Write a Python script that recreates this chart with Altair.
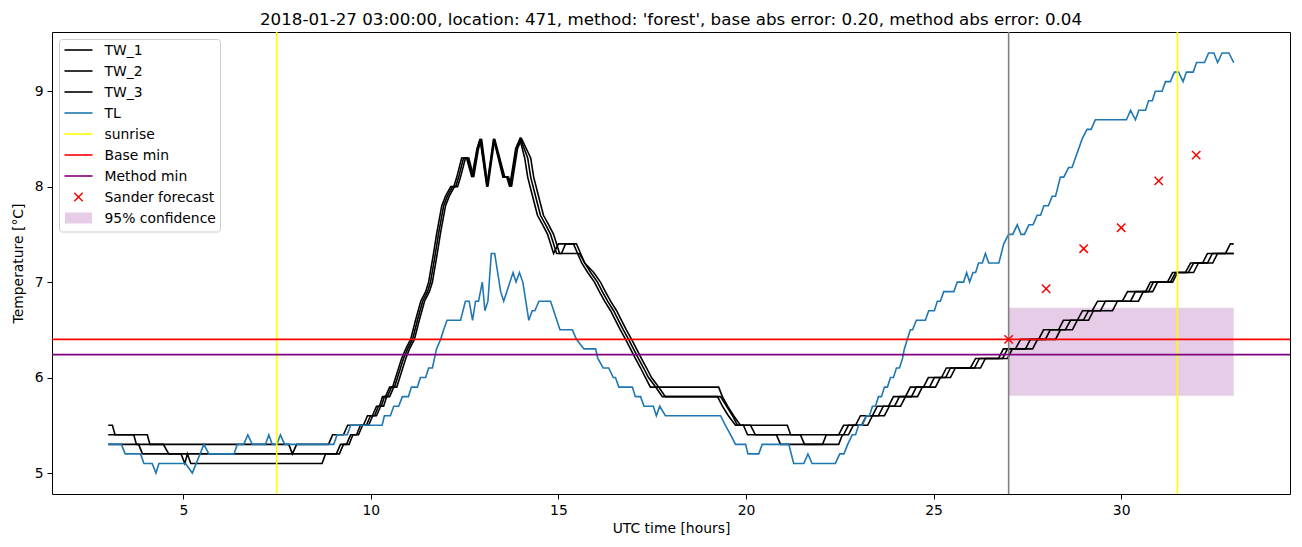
import altair as alt
import pandas as pd

TITLE = "2018-01-27 03:00:00, location: 471, method: 'forest', base abs error: 0.20, method abs error: 0.04"

# ---------------- data ----------------
TL_t = [3.00, 3.35, 3.45, 3.86, 3.95, 4.17, 4.27, 4.35, 5.06, 5.24, 5.55, 5.68, 6.35, 6.44, 6.61, 6.72, 6.84,
        7.19, 7.28, 7.37, 7.49, 7.59, 7.70, 9.01, 9.10, 9.37, 9.46, 10.30, 10.36, 10.52, 10.61, 10.74, 10.84,
        11.00, 11.08, 11.24, 11.32, 11.46, 11.54, 11.64, 11.75, 11.86, 11.94, 12.03, 12.39, 12.52, 12.62, 12.71,
        12.79, 12.87, 12.97, 13.04, 13.12, 13.21, 13.30, 13.46, 13.54, 13.79, 13.87, 13.96, 14.05, 14.21, 14.30,
        14.37, 14.48, 14.79, 15.04, 15.37, 15.48, 15.68, 15.99, 16.05, 16.19, 16.34, 16.46, 16.52, 16.61, 16.97,
        17.05, 17.19, 17.28, 17.53, 17.61, 17.70, 17.85, 19.32, 19.45, 19.59, 19.72, 19.99, 20.05, 20.34, 20.43,
        21.14, 21.27, 21.54, 21.65, 21.76, 22.38, 22.50, 22.61, 22.71, 22.83, 22.92, 23.00, 23.10, 23.21, 23.29,
        23.37, 23.45, 23.53, 23.61, 23.69, 23.77, 23.85, 23.93, 24.01, 24.09, 24.17, 24.22, 24.30, 24.38, 24.44,
        24.54, 24.78, 24.87, 25.02, 25.10, 25.18, 25.27, 25.54, 25.63, 25.80, 25.88, 25.96, 26.05, 26.12, 26.20,
        26.30, 26.38, 26.47, 26.74, 26.87, 27.00, 27.11, 27.23, 27.33, 27.42, 27.54, 27.65, 27.76, 27.85, 27.94,
        28.06, 28.16, 28.25, 28.38, 28.47, 28.60, 28.69, 28.78, 28.96, 29.09, 29.20, 29.31, 30.14, 30.25, 30.38,
        30.47, 30.65, 30.73, 30.83, 30.91, 31.09, 31.18, 31.31, 31.42, 31.53, 31.65, 31.74, 31.92, 32.01, 32.22,
        32.33, 32.47, 32.57, 32.69, 32.87, 33.00]
TL_v = [5.3, 5.3, 5.2, 5.2, 5.1, 5.1, 5.0, 5.1, 5.1, 5.0, 5.3, 5.2, 5.2, 5.3, 5.3, 5.4, 5.3,
        5.3, 5.4, 5.3, 5.3, 5.4, 5.3, 5.3, 5.4, 5.4, 5.5, 5.5, 5.6, 5.6, 5.7, 5.7, 5.8,
        5.8, 5.9, 5.9, 6.0, 6.0, 6.1, 6.1, 6.3, 6.4, 6.5, 6.6, 6.6, 6.8, 6.8, 6.6,
        6.8, 6.8, 7.0, 6.7, 6.8, 7.3, 7.3, 6.9, 6.8, 7.1, 7.0, 7.1, 7.0, 6.6, 6.7,
        6.7, 6.8, 6.8, 6.5, 6.5, 6.4, 6.3, 6.3, 6.2, 6.1, 6.1, 6.0, 6.0, 5.9, 5.9,
        5.8, 5.8, 5.7, 5.7, 5.6, 5.7, 5.6, 5.6, 5.5, 5.4, 5.3, 5.3, 5.2, 5.2, 5.3,
        5.3, 5.1, 5.1, 5.2, 5.1, 5.1, 5.2, 5.2, 5.3, 5.4, 5.4, 5.5, 5.5, 5.6, 5.6,
        5.7, 5.7, 5.8, 5.8, 5.9, 5.9, 6.0, 6.0, 6.1, 6.1, 6.2, 6.3, 6.4, 6.5, 6.5,
        6.6, 6.6, 6.7, 6.7, 6.8, 6.8, 6.9, 6.9, 7.0, 7.0, 7.1, 7.0, 7.1, 7.1, 7.2,
        7.2, 7.3, 7.2, 7.2, 7.4, 7.5, 7.5, 7.6, 7.5, 7.5, 7.6, 7.6, 7.7, 7.7, 7.8,
        7.8, 7.9, 7.9, 8.1, 8.1, 8.2, 8.2, 8.3, 8.5, 8.6, 8.6, 8.7, 8.7, 8.8, 8.7,
        8.8, 8.8, 8.9, 8.9, 9.0, 9.0, 9.1, 9.1, 9.2, 9.2, 9.1, 9.2, 9.2, 9.3, 9.3,
        9.4, 9.4, 9.3, 9.4, 9.4, 9.3]

TW1_t = [3.00, 3.11, 3.18, 4.04, 4.11, 7.81, 7.91, 8.02, 8.87, 8.98, 9.27, 9.38, 9.80, 9.91, 10.04, 10.15,
         10.23, 10.31, 10.39, 10.50, 10.58, 10.66, 10.74, 10.82, 10.93, 11.06, 11.19, 11.33, 11.46, 11.54,
         11.67, 11.75, 11.89, 11.99, 12.13, 12.21, 12.29, 12.42, 12.55, 12.69, 12.83, 12.91, 13.09, 13.27,
         13.52, 13.62, 13.70, 13.86, 13.97, 14.10, 14.18, 14.31, 14.44, 14.58, 14.71, 14.87, 15.00, 15.40,
         15.51, 15.62, 15.78, 15.96, 16.09, 16.23, 16.39, 16.52, 16.65, 16.79, 16.92, 17.05, 17.19, 17.32,
         17.45, 19.27, 19.37, 19.51, 19.67, 19.85, 21.10, 21.19, 22.47, 22.60, 22.92, 23.05, 23.37, 23.50,
         23.80, 23.93, 24.25, 24.38, 24.73, 24.86, 25.21, 25.34, 25.98, 26.12, 26.73, 26.86, 27.18, 27.32,
         27.80, 27.93, 28.33, 28.46, 28.83, 28.97, 29.23, 29.37, 30.03, 30.17, 30.65, 30.78, 31.23, 31.37,
         31.71, 31.85, 32.17, 32.30, 32.78, 32.91, 33.00]
TW1_v = [5.5, 5.5, 5.4, 5.4, 5.3, 5.3, 5.2, 5.3, 5.3, 5.4, 5.4, 5.5, 5.5, 5.6, 5.6, 5.7,
         5.7, 5.8, 5.8, 5.9, 5.9, 6.0, 6.1, 6.2, 6.3, 6.4, 6.6, 6.8, 6.9, 7.0,
         7.3, 7.5, 7.8, 7.9, 8.0, 8.0, 8.1, 8.3, 8.3, 8.1, 8.4, 8.5, 8.0, 8.5,
         8.1, 8.1, 8.0, 8.4, 8.5, 8.3, 8.1, 7.9, 7.7, 7.6, 7.5, 7.3, 7.4, 7.4,
         7.3, 7.2, 7.1, 7.0, 6.9, 6.8, 6.7, 6.6, 6.5, 6.4, 6.3, 6.2, 6.1, 6.0,
         5.9, 5.9, 5.8, 5.7, 5.6, 5.5, 5.5, 5.4, 5.4, 5.5, 5.5, 5.6, 5.6, 5.7,
         5.7, 5.8, 5.8, 5.9, 5.9, 6.0, 6.0, 6.1, 6.1, 6.2, 6.2, 6.3, 6.3, 6.4,
         6.4, 6.5, 6.5, 6.6, 6.6, 6.7, 6.7, 6.8, 6.8, 6.9, 6.9, 7.0, 7.0, 7.1,
         7.1, 7.2, 7.2, 7.3, 7.3, 7.4, 7.4]

TW2_t = [3.00, 3.68, 3.75, 4.47, 4.61, 9.08, 9.19, 9.35, 9.46, 9.62, 9.72, 9.88, 9.99, 10.10, 10.20, 10.28,
         10.36, 10.44, 10.55, 10.63, 10.71, 10.79, 10.87, 10.98, 11.11, 11.24, 11.38, 11.51, 11.59, 11.72,
         11.80, 11.94, 12.04, 12.18, 12.26, 12.34, 12.47, 12.58, 12.71, 12.84, 12.92, 13.10, 13.28, 13.54,
         13.64, 13.72, 13.88, 13.99, 14.18, 14.26, 14.39, 14.52, 14.66, 14.79, 14.95, 15.08, 15.19, 15.48,
         15.59, 15.70, 15.86, 16.04, 16.17, 16.31, 16.47, 16.60, 16.73, 16.87, 17.00, 17.13, 17.27, 17.40,
         17.59, 17.77, 19.24, 19.37, 19.53, 19.72, 20.12, 20.25, 20.81, 20.92, 22.04, 22.14, 22.60, 22.73,
         23.08, 23.21, 23.53, 23.66, 23.96, 24.09, 24.41, 24.54, 24.89, 25.02, 25.32, 25.45, 26.09, 26.22,
         26.84, 26.97, 27.45, 27.58, 27.98, 28.11, 28.51, 28.65, 28.99, 29.13, 29.45, 29.58, 30.25, 30.38,
         30.73, 30.86, 31.31, 31.45, 31.79, 31.93, 32.30, 32.43, 33.00]
TW2_v = [5.4, 5.4, 5.3, 5.3, 5.2, 5.2, 5.3, 5.3, 5.4, 5.4, 5.5, 5.5, 5.6, 5.6, 5.7, 5.7,
         5.8, 5.8, 5.9, 5.9, 6.0, 6.1, 6.2, 6.3, 6.4, 6.6, 6.8, 6.9, 7.0, 7.3,
         7.5, 7.8, 7.9, 8.0, 8.0, 8.1, 8.3, 8.3, 8.1, 8.4, 8.5, 8.0, 8.5, 8.1,
         8.1, 8.0, 8.4, 8.5, 8.3, 8.1, 7.9, 7.7, 7.6, 7.5, 7.3, 7.3, 7.4, 7.4,
         7.3, 7.2, 7.1, 7.0, 6.9, 6.8, 6.7, 6.6, 6.5, 6.4, 6.3, 6.2, 6.1, 6.0,
         5.9, 5.8, 5.8, 5.7, 5.6, 5.5, 5.5, 5.4, 5.4, 5.3, 5.3, 5.4, 5.4, 5.5,
         5.5, 5.6, 5.6, 5.7, 5.7, 5.8, 5.8, 5.9, 5.9, 6.0, 6.0, 6.1, 6.1, 6.2,
         6.2, 6.3, 6.3, 6.4, 6.4, 6.5, 6.5, 6.6, 6.6, 6.7, 6.7, 6.8, 6.8, 6.9,
         6.9, 7.0, 7.0, 7.1, 7.1, 7.2, 7.2, 7.3, 7.3]

TW3_t = [3.00, 3.81, 3.91, 4.94, 5.04, 5.11, 5.20, 8.70, 8.79, 9.16, 9.27, 9.42, 9.52, 9.67, 9.78, 9.94,
         10.05, 10.15, 10.26, 10.34, 10.42, 10.50, 10.61, 10.69, 10.77, 10.85, 10.93, 11.03, 11.16, 11.29,
         11.43, 11.56, 11.64, 11.77, 11.85, 11.99, 12.09, 12.23, 12.31, 12.39, 12.52, 12.61, 12.74, 12.87,
         12.95, 13.12, 13.30, 13.57, 13.67, 13.75, 13.91, 14.02, 14.26, 14.34, 14.47, 14.60, 14.74, 14.87,
         15.03, 15.56, 15.70, 15.94, 16.12, 16.25, 16.39, 16.55, 16.68, 16.81, 16.95, 17.08, 17.21, 17.35,
         17.48, 17.67, 17.85, 19.32, 19.48, 19.64, 19.77, 19.93, 20.04, 21.45, 21.56, 22.47, 22.57, 22.73,
         22.86, 23.24, 23.37, 23.69, 23.82, 24.12, 24.25, 24.57, 24.70, 25.05, 25.18, 25.45, 25.58, 26.25,
         26.38, 26.97, 27.10, 27.64, 27.77, 28.25, 28.38, 28.70, 28.83, 29.13, 29.26, 29.77, 29.90, 30.46,
         30.59, 30.84, 30.97, 31.37, 31.50, 31.93, 32.06, 32.44, 32.57, 33.00]
TW3_v = [5.3, 5.3, 5.2, 5.2, 5.1, 5.2, 5.1, 5.1, 5.2, 5.2, 5.3, 5.3, 5.4, 5.4, 5.5, 5.5,
         5.6, 5.6, 5.7, 5.7, 5.8, 5.8, 5.9, 5.9, 6.0, 6.1, 6.2, 6.3, 6.4, 6.6,
         6.8, 6.9, 7.0, 7.3, 7.5, 7.8, 7.9, 8.0, 8.0, 8.1, 8.3, 8.3, 8.1, 8.4,
         8.5, 8.0, 8.5, 8.1, 8.1, 8.0, 8.4, 8.5, 8.3, 8.1, 7.9, 7.7, 7.6, 7.5,
         7.3, 7.3, 7.2, 7.1, 7.0, 6.9, 6.8, 6.7, 6.6, 6.5, 6.4, 6.3, 6.2, 6.1,
         6.0, 5.9, 5.8, 5.8, 5.7, 5.6, 5.5, 5.5, 5.4, 5.4, 5.3, 5.3, 5.4, 5.4,
         5.5, 5.5, 5.6, 5.6, 5.7, 5.7, 5.8, 5.8, 5.9, 5.9, 6.0, 6.0, 6.1, 6.1,
         6.2, 6.2, 6.3, 6.3, 6.4, 6.4, 6.5, 6.5, 6.6, 6.6, 6.7, 6.7, 6.8, 6.8,
         6.9, 6.9, 7.0, 7.0, 7.1, 7.1, 7.2, 7.2, 7.3, 7.3]

sunrise_t = [7.49, 31.50]
now_t = [27.0]
base_min = [6.40]
method_min = [6.24]
sander_t = [27, 28, 29, 30, 31, 32]
sander_v = [6.40, 6.93, 7.35, 7.57, 8.06, 8.33]
conf_t = [27.0, 33.0]
conf_v = [5.81, 6.73]

x_ticks = [5, 10, 15, 20, 25, 30]
y_ticks = [5, 6, 7, 8, 9]

legend_labels = ["TW_1", "TW_2", "TW_3", "TL", "sunrise", "Base min", "Method min",
                 "Sander forecast", "95% confidence"]
legend_colors = ["black", "black", "black", "#1f77b4", "#ffff00", "red", "purple", "red", "purple"]
legend_kinds = ["line", "line", "line", "line", "line", "line", "line", "cross", "patch"]

# ---------------- chart ----------------
FONT = "DejaVu Sans"
X_DOMAIN = [1.5, 34.5]
Y_DOMAIN = [4.78, 9.62]
CROSS = "M-1,-1L1,1M-1,1L1,-1"
LW = 1.6

xs = alt.Scale(domain=X_DOMAIN, nice=False, zero=False)
ys = alt.Scale(domain=Y_DOMAIN, nice=False, zero=False)
X_AX = alt.Axis(values=x_ticks, title="UTC time [hours]")
Y_AX = alt.Axis(values=y_ticks, title="Temperature [°C]")


def series_df(name, ts, vs):
    return pd.DataFrame({"series": name, "t": ts, "v": vs, "i": list(range(len(ts)))})


tw_df = pd.concat([series_df("TW_1", TW1_t, TW1_v),
                   series_df("TW_2", TW2_t, TW2_v),
                   series_df("TW_3", TW3_t, TW3_v)], ignore_index=True)
tl_df = series_df("TL", TL_t, TL_v)

conf_df = pd.DataFrame({"t": [conf_t[0]], "t1": [conf_t[1]], "v": [conf_v[0]], "hi": [conf_v[1]]})

band = alt.Chart(conf_df).mark_rect(color="purple", opacity=0.2).encode(
    x=alt.X("t:Q", scale=xs, axis=X_AX),
    x2="t1:Q",
    y=alt.Y("v:Q", scale=ys, axis=Y_AX),
    y2="hi:Q",
)

tw_lines = alt.Chart(tw_df).mark_line(strokeWidth=LW, color="black").encode(
    x=alt.X("t:Q", scale=xs, axis=X_AX),
    y=alt.Y("v:Q", scale=ys, axis=Y_AX),
    detail="series:N",
    order="i:Q",
)

tl_line = alt.Chart(tl_df).mark_line(strokeWidth=LW, color="#1f77b4").encode(
    x=alt.X("t:Q", scale=xs, axis=X_AX),
    y=alt.Y("v:Q", scale=ys, axis=Y_AX),
    order="i:Q",
)

sun = alt.Chart(pd.DataFrame({"t": sunrise_t})).mark_rule(color="#ffff00", strokeWidth=LW).encode(
    x=alt.X("t:Q", scale=xs, axis=X_AX))
now = alt.Chart(pd.DataFrame({"t": now_t})).mark_rule(color="gray", strokeWidth=LW).encode(
    x=alt.X("t:Q", scale=xs, axis=X_AX))
base = alt.Chart(pd.DataFrame({"v": base_min})).mark_rule(color="red", strokeWidth=LW).encode(
    y=alt.Y("v:Q", scale=ys, axis=Y_AX))
meth = alt.Chart(pd.DataFrame({"v": method_min})).mark_rule(color="purple", strokeWidth=LW).encode(
    y=alt.Y("v:Q", scale=ys, axis=Y_AX))

sander = alt.Chart(pd.DataFrame({"t": sander_t, "v": sander_v})).mark_point(
    shape=CROSS, size=70, filled=False, color="red", strokeWidth=1.5, opacity=1).encode(
    x=alt.X("t:Q", scale=xs, axis=X_AX),
    y=alt.Y("v:Q", scale=ys, axis=Y_AX),
)

# ---- legend (drawn in the upper-left corner of the plot, like matplotlib's) ----
legend_layers = [
    alt.Chart(pd.DataFrame({"label": ["box"]})).mark_rect(
        fill="white", fillOpacity=0.8, stroke="#cccccc", strokeWidth=1, cornerRadius=3).encode(
        x=alt.value(7.5), x2=alt.value(168.5), y=alt.value(7.5), y2=alt.value(200))
]
for k, (lab, col, kind) in enumerate(zip(legend_labels, legend_colors, legend_kinds)):
    ry = 18 + 21 * k
    d = pd.DataFrame({"label": [lab]})
    if kind == "line":
        legend_layers.append(alt.Chart(d).mark_rule(color=col, strokeWidth=LW).encode(
            x=alt.value(12.5), x2=alt.value(40.5), y=alt.value(ry)))
    elif kind == "cross":
        legend_layers.append(alt.Chart(d).mark_point(
            shape=CROSS, size=70, filled=False, color=col, strokeWidth=1.5, opacity=1).encode(
            x=alt.value(26.5), y=alt.value(ry)))
    else:
        legend_layers.append(alt.Chart(d).mark_rect(color=col, opacity=0.2).encode(
            x=alt.value(13), x2=alt.value(40), y=alt.value(ry - 5.5), y2=alt.value(ry + 5.5)))
    legend_layers.append(alt.Chart(d).mark_text(
        align="left", baseline="middle", font=FONT, fontSize=13.9, color="black").encode(
        x=alt.value(52.5), y=alt.value(ry + 1), text="label:N"))

chart = alt.layer(band, tw_lines, tl_line, sun, now, base, meth, sander, *legend_layers).properties(
    width=1238,
    height=462,
    padding={"left": 44, "top": 24, "right": 4, "bottom": 44},
    autosize=alt.AutoSizeParams(type="none"),
    title=alt.TitleParams(text=TITLE, font=FONT, fontSize=16.7, fontWeight="normal", color="black",
                          anchor="middle", frame="group", offset=3),
).configure_view(
    stroke="black", strokeWidth=1
).configure_axis(
    grid=False, domain=False, tickColor="black", tickSize=5, tickWidth=1,
    labelFont=FONT, labelFontSize=13.9, labelColor="black", labelPadding=4,
    titleFont=FONT, titleFontSize=13.9, titleFontWeight="normal", titleColor="black",
).configure_axisY(titlePadding=9).configure_axisX(titlePadding=5)

chart.save("out.html", embed_options={"renderer": "svg", "actions": False})
